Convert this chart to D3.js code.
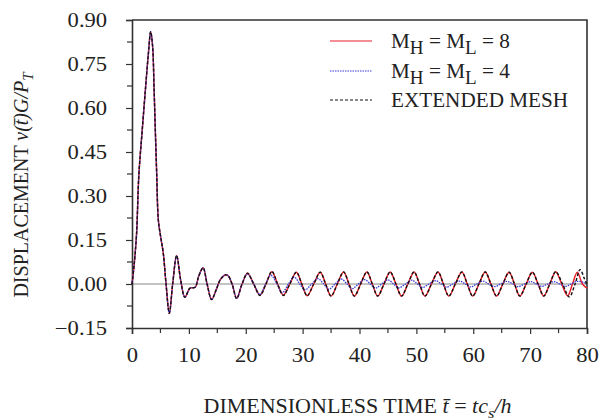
<!DOCTYPE html>
<html>
<head>
<meta charset="utf-8">
<script src="https://cdn.jsdelivr.net/npm/d3@7"></script>
<style>
  body { margin: 0; background: #fff; }
  text { font-family: "Liberation Serif", "Times New Roman", serif; fill: #222; }
</style>
</head>
<body>
<div id="chart"></div>
<script>
// shared early response (all three meshes coincide here)
const tEarly = [0, 0.35, 0.8, 1.2, 1.8, 2.4, 2.9, 3.28, 3.63, 3.87, 4.1, 4.34, 4.63, 5.04, 5.5, 5.98, 6.56, 7.15, 7.85, 8.55, 9.3, 10.2, 11.1, 11.7, 12.5, 13.2, 14.0, 14.8, 15.5, 16.4, 16.9, 17.6, 18.4];
const vEarly = [0, 0.06, 0.17, 0.37, 0.525, 0.673, 0.79, 0.86, 0.809, 0.673, 0.525, 0.377, 0.218, 0.161, 0.105, 0.002, -0.10, 0, 0.097, 0.014, -0.045, -0.014, -0.011, 0.025, 0.055, 0.0, -0.053, -0.02, 0.014, 0.031, 0.028, 0.0, -0.049];

// M_H = M_L = 8
const tM8 = [19.35, 20.3, 21.4, 22.5, 23.55, 24.6, 25.6, 26.6, 27.75, 28.9, 29.85, 30.8, 31.95, 33.1, 34.05, 35.0, 36.1, 37.2, 38.15, 39.1, 40.2, 41.3, 42.25, 43.2, 44.3, 45.4, 46.4, 47.4, 48.5, 49.6, 50.55, 51.5, 52.65, 53.8, 54.75, 55.7, 56.85, 58.0, 58.95, 59.9, 61.0, 62.1, 63.1, 64.1, 65.2, 66.3, 67.25, 68.2, 69.3, 70.4, 71.4, 72.4, 73.45, 74.5, 75.55, 76.6, 77.45, 78.3, 79.2, 80];
const vM8 = [0, 0.037, 0, -0.038, 0, 0.042, 0, -0.038, 0, 0.040, 0, -0.040, 0, 0.040, 0, -0.041, 0, 0.041, 0, -0.041, 0, 0.041, 0, -0.041, 0, 0.041, 0, -0.041, 0, 0.041, 0, -0.041, 0, 0.041, 0, -0.041, 0, 0.041, 0, -0.041, 0, 0.041, 0, -0.041, 0, 0.040, 0, -0.041, 0, 0.040, 0, -0.041, 0, 0.042, 0, -0.040, 0, 0.040, 0, -0.014];

// M_H = M_L = 4
const tM4 = [19.35, 20.3, 21.4, 22.5, 23.5, 24.4, 25.5, 26.4, 27.5, 28.5, 29.5, 30.4, 31.6, 32.7, 33.7, 34.6, 35.7, 36.8, 37.8, 38.7, 39.8, 40.9, 41.9, 42.8, 43.9, 45.0, 46.0, 46.9, 48.1, 49.2, 50.2, 51.1, 52.2, 53.4, 54.4, 55.3, 56.4, 57.6, 58.6, 59.5, 60.6, 61.7, 62.7, 63.7, 64.8, 65.9, 67.0, 67.9, 69.0, 70.1, 71.1, 72.1, 73.1, 74.2, 75.2, 76.2, 77.2, 78.3, 80];
const vM4 = [0, 0.034, 0, -0.036, 0, 0.030, 0, -0.030, 0, 0.024, 0, -0.020, 0, 0.018, 0, -0.018, 0, 0.017, 0, -0.016, 0, 0.015, 0, -0.014, 0, 0.014, 0, -0.013, 0, 0.013, 0, -0.012, 0, 0.011, 0, -0.011, 0, 0.010, 0, -0.010, 0, 0.010, 0, -0.009, 0, 0.009, 0, -0.009, 0, 0.008, 0, -0.008, 0, 0.008, 0, -0.008, 0, 0.009, 0.002];

// extended mesh
const tExt = [19.35, 20.3, 21.4, 22.5, 23.55, 24.6, 25.6, 26.6, 27.75, 28.9, 29.85, 30.8, 31.95, 33.1, 34.05, 35.0, 36.1, 37.2, 38.15, 39.1, 40.2, 41.3, 42.25, 43.2, 44.3, 45.4, 46.4, 47.4, 48.5, 49.6, 50.55, 51.5, 52.65, 53.8, 54.75, 55.7, 56.85, 58.0, 58.95, 59.9, 61.0, 62.1, 63.1, 64.1, 65.2, 66.3, 67.25, 68.2, 69.3, 70.4, 71.4, 72.4, 73.45, 74.5, 75.7, 76.9, 77.9, 78.8, 79.5, 80];
const vExt = [0, 0.037, 0, -0.039, 0, 0.043, 0, -0.039, 0, 0.040, 0, -0.040, 0, 0.040, 0, -0.041, 0, 0.041, 0, -0.041, 0, 0.041, 0, -0.041, 0, 0.041, 0, -0.041, 0, 0.041, 0, -0.041, 0, 0.041, 0, -0.041, 0, 0.041, 0, -0.041, 0, 0.041, 0, -0.041, 0, 0.040, 0, -0.041, 0, 0.040, 0, -0.041, 0, 0.042, 0, -0.044, 0, 0.049, 0.02, -0.004];

const xTicks = [0, 10, 20, 30, 40, 50, 60, 70, 80];
const yTicks = [-0.15, 0, 0.15, 0.30, 0.45, 0.60, 0.75, 0.90];
const legendLabels = [['M', 'H', ' = M', 'L', ' = 8'], ['M', 'H', ' = M', 'L', ' = 4'], ['EXTENDED MESH']];

const width = 601, height = 420;
const margins = { top: 20, right: 14, bottom: 92, left: 132 };
const stretch = 1.13; // the original lettering is a bit wide

const svg = d3.select('#chart').append('svg')
    .attr('width', width)
    .attr('height', height);

const x = d3.scaleLinear().domain([0, 80]).range([margins.left, width - margins.right]);
const y = d3.scaleLinear().domain([-0.15, 0.90]).range([height - margins.bottom, margins.top]);

const axisColor = '#333';

// zero line
svg.append('line')
    .attr('x1', x(0)).attr('x2', x(80))
    .attr('y1', y(0)).attr('y2', y(0))
    .attr('stroke', '#888').attr('stroke-width', 1);

// minor ticks
const xMinor = d3.range(5, 80, 10);
const yMinor = d3.range(-0.075, 0.9, 0.15);

svg.append('g').selectAll('line').data(xMinor).join('line')
    .attr('x1', d => x(d)).attr('x2', d => x(d))
    .attr('y1', y(-0.15)).attr('y2', y(-0.15) + 5)
    .attr('stroke', axisColor).attr('stroke-width', 1.2);
svg.append('g').selectAll('line').data(yMinor).join('line')
    .attr('x1', x(0) - 5).attr('x2', x(0))
    .attr('y1', d => y(d)).attr('y2', d => y(d))
    .attr('stroke', axisColor).attr('stroke-width', 1.2);

// axes
const xAxis = svg.append('g')
    .attr('transform', `translate(0,${y(-0.15)})`)
    .call(d3.axisBottom(x).tickValues(xTicks).tickSize(6).tickPadding(14).tickFormat(d3.format('d')));
const yAxis = svg.append('g')
    .attr('transform', `translate(${x(0)},0)`)
    .call(d3.axisLeft(y).tickValues(yTicks).tickSize(6).tickPadding(16).tickFormat(d3.format('.2f')));

[xAxis, yAxis].forEach(g => {
    g.select('.domain').attr('stroke', axisColor).attr('stroke-width', 1.6);
    g.selectAll('.tick line').attr('stroke', axisColor).attr('stroke-width', 1.2);
    g.selectAll('.tick text')
        .attr('fill', '#222')
        .attr('transform', `scale(${stretch},1)`)
        .style('font-family', '"Liberation Serif", serif')
        .style('font-size', '20px');
});

// top & right frame
svg.append('path')
    .attr('d', `M${x(0)},${y(0.9)}H${x(80)}V${y(-0.15)}`)
    .attr('fill', 'none')
    .attr('stroke', axisColor)
    .attr('stroke-width', 1.6);

// curves
const line = d3.line()
    .x(d => x(d[0]))
    .y(d => y(d[1]))
    .curve(d3.curveCatmullRom.alpha(0.5));

function series(tLate, vLate) {
    return tEarly.map((t, i) => [t, vEarly[i]]).concat(tLate.map((t, i) => [t, vLate[i]]));
}

const styles = [
    { data: series(tM8, vM8), stroke: '#e8202a', width: 1.5, dash: null },
    { data: series(tM4, vM4), stroke: '#3a3ad6', width: 1.3, dash: '1.5,1' },
    { data: series(tExt, vExt), stroke: '#111', width: 1.4, dash: '3,2' },
];

svg.append('g')
    .attr('fill', 'none')
    .selectAll('path')
    .data(styles)
    .join('path')
    .attr('stroke', d => d.stroke)
    .attr('stroke-width', d => d.width)
    .attr('stroke-dasharray', d => d.dash)
    .attr('d', d => line(d.data));

// legend
const legend = svg.append('g');
const rowY = [41, 71, 100];
styles.forEach((s, i) => {
    legend.append('line')
        .attr('x1', 330).attr('x2', 372)
        .attr('y1', rowY[i]).attr('y2', rowY[i])
        .attr('stroke', s.stroke)
        .attr('stroke-width', 1.2)
        .attr('stroke-dasharray', s.dash);
    const txt = legend.append('text')
        .attr('transform', `translate(391,${rowY[i] + 7}) scale(1.06,1)`)
        .style('font-size', '20px');
    const parts = legendLabels[i];
    if (parts.length === 1) {
        txt.text(parts[0]);
    } else {
        txt.append('tspan').text(parts[0]);
        txt.append('tspan').attr('dy', 6).style('font-size', '18px').text(parts[1]);
        txt.append('tspan').attr('dy', -6).text(parts[2]);
        txt.append('tspan').attr('dy', 6).style('font-size', '18px').text(parts[3]);
        txt.append('tspan').attr('dy', -6).text(parts[4]);
    }
});

// axis titles
const xTitle = svg.append('text')
    .attr('transform', `translate(${(x(0) + x(80)) / 2 - 2},413) scale(1.1,1)`)
    .attr('text-anchor', 'middle')
    .style('font-size', '20px');
xTitle.append('tspan').text('DIMENSIONLESS TIME ');
xTitle.append('tspan').style('font-style', 'italic').text('t\u0304');
xTitle.append('tspan').text(' = ');
xTitle.append('tspan').style('font-style', 'italic').text('tc');
xTitle.append('tspan').style('font-style', 'italic').style('font-size', '15px').attr('dy', 5).text('s');
xTitle.append('tspan').style('font-style', 'italic').attr('dy', -5).text('/h');

const yTitle = svg.append('text')
    .attr('transform', `translate(28,${(y(0.9) + y(-0.15)) / 2 + 11}) rotate(-90)`)
    .attr('text-anchor', 'middle')
    .style('font-size', '20px');
yTitle.append('tspan').text('DISPLACEMENT ');
yTitle.append('tspan').style('font-style', 'italic').text('v(t\u0304)G/P');
yTitle.append('tspan').style('font-style', 'italic').style('font-size', '15px').attr('dy', 5).text('T');
</script>
</body>
</html>
